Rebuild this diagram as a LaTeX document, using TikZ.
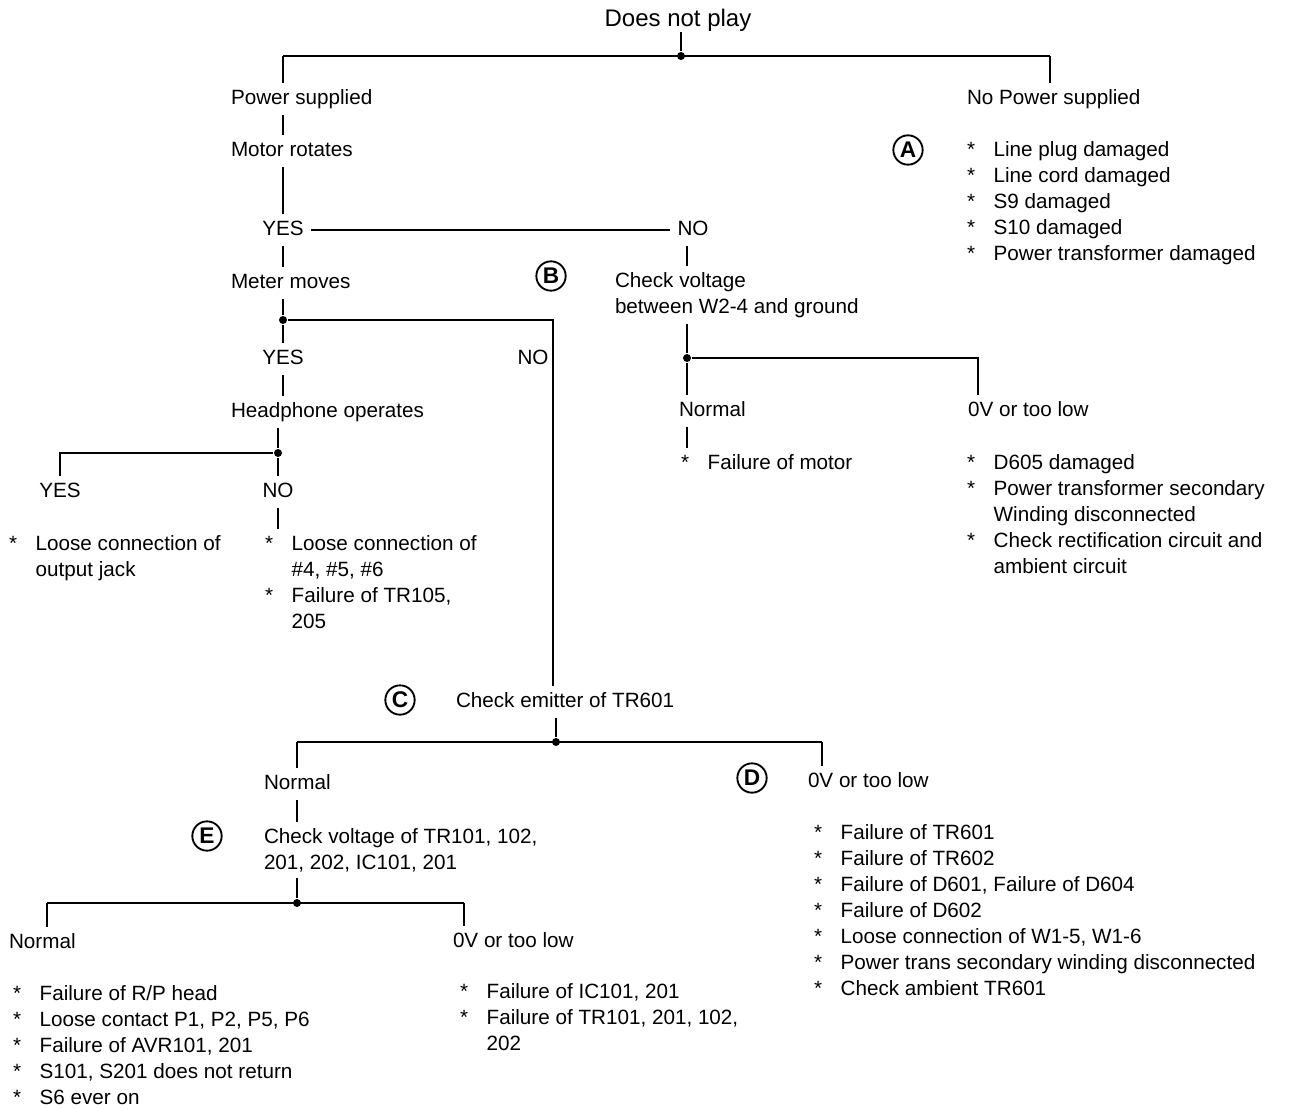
\documentclass[tikz,border=0pt]{standalone}
\usepackage{fontspec}
\setmainfont{Liberation Sans}
\newcommand{\fsz}{\fontsize{15.5}{19.5}\selectfont}
\newcommand{\litem}{\makebox[20pt][l]{*}}
\newcommand{\lcont}{\hspace*{20pt}}

\tikzset{every picture/.style={line width=1.5pt},
  lbl/.style={inner xsep=0pt, inner ysep=4pt, text height=11pt, text depth=3pt, font=\fsz, anchor=west, yshift=-1.5pt},
  yn/.style={lbl, anchor=center, inner xsep=5pt},
  blk/.style={align=left, inner xsep=0pt, inner ysep=4pt, font=\fsz, anchor=north west},
  jdot/.style={circle, fill=black, inner sep=0pt, minimum size=6pt},
  lettr/.style={circle, draw, line width=1.4pt, inner sep=0pt, minimum size=22pt, font=\fontsize{17}{17}\selectfont\bfseries}
}

\begin{document}
\begin{tikzpicture}[x=0.75pt,y=0.75pt,yscale=-1,xscale=1]
	\useasboundingbox (0,0) rectangle (1293,1110);

	% Text Node
	\node[font=\fontsize{18}{22}\selectfont, inner sep=0pt] (top) at (678,20) {Does not play};
	% Text Node
	\node[lbl] (ps) at (230,97) {Power supplied};
	\node[lbl] (nps) at (966,97) {No Power supplied};
	\node[lbl] (mr) at (230,149) {Motor rotates};
	\node[yn] (yes1) at (283,228) {YES};
	\node[yn] (no1) at (693,228) {NO};
	\node[lbl] (mm) at (230,281) {Meter moves};
	\node[blk] (cv) at (614,266) {Check voltage\\between W2-4 and ground};
	\node[yn] (yes2) at (283,357) {YES};
	\node[yn] (no2) at (533,357) {NO};
	\node[lbl] (hp) at (230,410) {Headphone operates};
	\node[yn] (yes3) at (60,490) {YES};
	\node[yn] (no3) at (278,490) {NO};
	\node[lbl] (nrm1) at (678,409) {Normal};
	\node[lbl] (low1) at (967,409) {0V or too low};
	\node[lbl] (ce) at (455,700) {Check emitter of TR601};
	\node[lbl] (nrm2) at (263,782) {Normal};
	\node[lbl] (low2) at (807,780) {0V or too low};
	\node[blk] (cvt) at (263,822) {Check voltage of TR101, 102,\\201, 202, IC101, 201};
	\node[lbl] (nrm3) at (8,941) {Normal};
	\node[lbl] (low3) at (452,940) {0V or too low};

	% Text Node (lists)
	\node[blk] (lsA) at (966,135) {\litem Line plug damaged\\\litem Line cord damaged\\\litem S9 damaged\\\litem S10 damaged\\\litem Power transformer damaged};
	\node[blk] (lsmot) at (680,448) {\litem Failure of motor};
	\node[blk] (lslow) at (966,448) {\litem D605 damaged\\\litem Power transformer secondary\\\lcont Winding disconnected\\\litem Check rectification circuit and\\\lcont ambient circuit};
	\node[blk] (lsjack) at (8,529) {\litem Loose connection of\\\lcont output jack};
	\node[blk] (lshp) at (264,529) {\litem Loose connection of\\\lcont \#4, \#5, \#6\\\litem Failure of TR105,\\\lcont 205};
	\node[blk] (lsD) at (813,818) {\litem Failure of TR601\\\litem Failure of TR602\\\litem Failure of D601, Failure of D604\\\litem Failure of D602\\\litem Loose connection of W1-5, W1-6\\\litem Power trans secondary winding disconnected\\\litem Check ambient TR601};
	\node[blk] (lsE) at (12,979) {\litem Failure of R/P head\\\litem Loose contact P1, P2, P5, P6\\\litem Failure of AVR101, 201\\\litem S101, S201 does not return\\\litem S6 ever on};
	\node[blk] (lsF) at (459,977) {\litem Failure of IC101, 201\\\litem Failure of TR101, 201, 102,\\\lcont 202};

	%Shape: Circle letters
	\node[lettr] (cA) at (908,150) {A};
	\node[lettr] (cB) at (551,276) {B};
	\node[lettr] (cC) at (400,700) {C};
	\node[lettr] (cD) at (752,778) {D};
	\node[lettr] (cE) at (207,836) {E};

	%Junctions and corners
	\node[jdot] (j0) at (681,56) {};
	\node[jdot] (j1) at (283,320) {};
	\node[jdot] (j2) at (687,358) {};
	\node[jdot] (j3) at (278,453) {};
	\node[jdot] (j4) at (556,742) {};
	\node[jdot] (j5) at (297,903) {};
	\coordinate (c1) at (283,56);
	\coordinate (c2) at (1050,56);
	\coordinate (c3) at (553,320);
	\coordinate (c4) at (978,358);
	\coordinate (c5) at (60,453);
	\coordinate (c6) at (297,742);
	\coordinate (c7) at (822,742);
	\coordinate (c8) at (47,903);
	\coordinate (c9) at (464,903);

	%Straight Lines
	\draw (top.south -| j0) -- (j0);
	\draw (c1) -- (c2);
	\draw (c1) -- (ps.north -| c1);
	\draw (c2) -- (nps.north -| c2);
	\draw (ps.south -| c1) -- (mr.north -| c1);
	\draw (mr.south -| c1) -- (yes1.north);
	\draw (yes1.east) -- (no1.west);
	\draw (no1.south -| j2) -- (cv.north -| j2);
	\draw (yes1.south) -- (mm.north -| c1);
	\draw (mm.south -| j1) -- (j1);
	\draw (j1) -- (c3) -- (ce.north -| c3);
	\draw (j1) -- (yes2.north);
	\draw (yes2.south) -- (hp.north -| j1);
	\draw (hp.south -| j3) -- (j3) -- (no3.north);
	\draw (j3) -- (c5) -- (yes3.north);
	\draw (no3.south) -- (lshp.north -| j3);
	\draw (cv.south -| j2) -- (j2) -- (nrm1.north -| j2);
	\draw (j2) -- (c4) -- (low1.north -| c4);
	\draw (nrm1.south -| j2) -- (lsmot.north -| j2);
	\draw (ce.south -| j4) -- (j4);
	\draw (c6) -- (c7);
	\draw (c6) -- (nrm2.north -| c6);
	\draw (c7) -- (low2.north -| c7);
	\draw (nrm2.south -| c6) -- (cvt.north -| c6);
	\draw (cvt.south -| j5) -- (j5);
	\draw (c8) -- (c9);
	\draw (c8) -- (nrm3.north -| c8);
	\draw (c9) -- (low3.north -| c9);

\end{tikzpicture}
\end{document}
